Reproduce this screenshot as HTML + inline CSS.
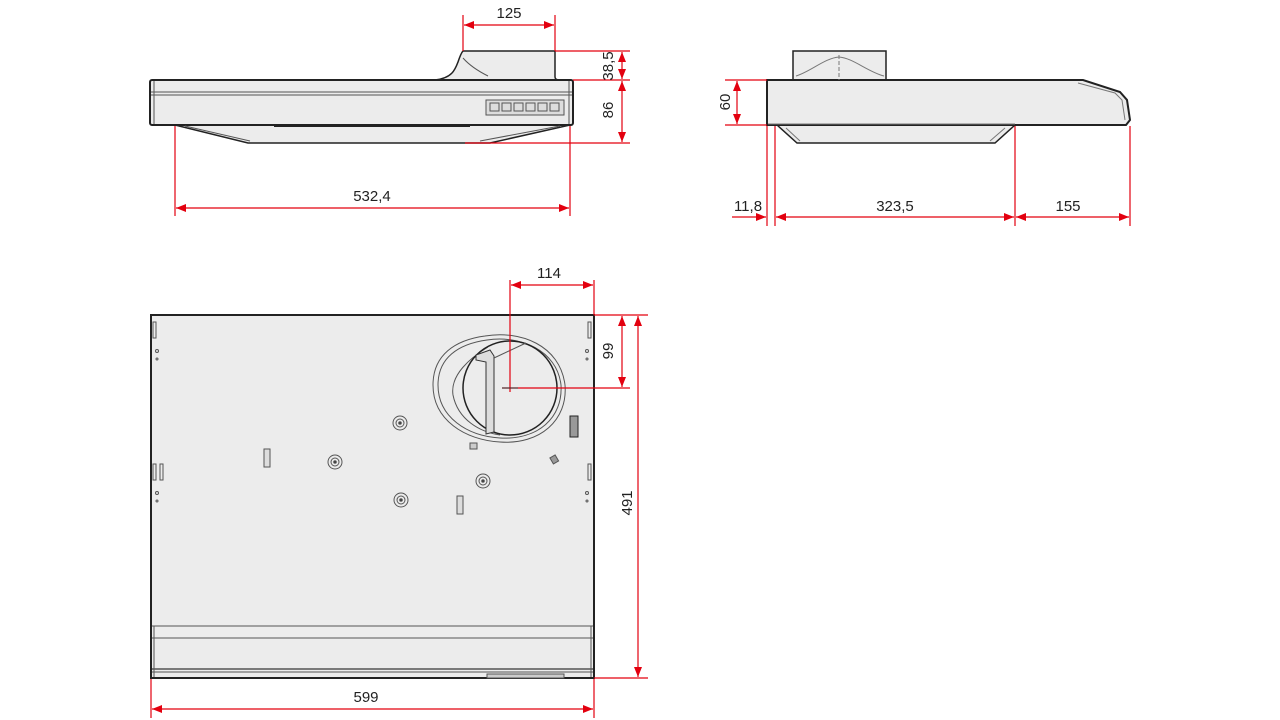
<!DOCTYPE html>
<html><head><meta charset="utf-8"><style>
html,body{margin:0;padding:0;background:#fff;width:1280px;height:720px;overflow:hidden}
svg{display:block}
text{font-family:"Liberation Sans","DejaVu Sans",sans-serif;font-size:15px;fill:#222}
</style></head><body>
<svg width="1280" height="720" viewBox="0 0 1280 720" xmlns="http://www.w3.org/2000/svg">
<defs>
<marker id="a" markerWidth="10" markerHeight="8" refX="10" refY="4" orient="auto-start-reverse" markerUnits="userSpaceOnUse">
<path d="M0,0 L10,4 L0,8 Z" fill="#e3000f"/></marker>
</defs>

<!-- FRONT VIEW -->
<g stroke="#222" fill="#ececec">
<path d="M435,80 C452,78 455,70 458,62 C460,56 462,52 463,51 L555,51 L555,77 C555,79 557,80 560,80 Z" stroke-width="1.5"/>
<path d="M175,125 L248,143 L490,143 L570,125 Z" stroke-width="1.5"/>
<rect x="150" y="80" width="423" height="45" rx="2" stroke-width="2"/>
</g>
<g stroke="#555" fill="none" stroke-width="1">
<line x1="151" y1="92" x2="572" y2="92"/><line x1="151" y1="95" x2="572" y2="95"/>
<line x1="154" y1="81" x2="154" y2="124"/><line x1="569" y1="81" x2="569" y2="124"/>
<line x1="274" y1="126" x2="470" y2="126" stroke="#222" stroke-width="2"/>
<line x1="185" y1="126" x2="250" y2="141"/><line x1="560" y1="126" x2="480" y2="141"/>
<path d="M463,58 C470,66 480,72 488,76"/>
<rect x="486" y="100" width="78" height="15" fill="#ddd"/>
<rect x="490" y="103" width="9" height="8"/><rect x="502" y="103" width="9" height="8"/><rect x="514" y="103" width="9" height="8"/><rect x="526" y="103" width="9" height="8"/><rect x="538" y="103" width="9" height="8"/><rect x="550" y="103" width="9" height="8"/>
</g>
<g stroke="#e3000f" stroke-width="1.2" fill="none">
<line x1="463" y1="15" x2="463" y2="51"/><line x1="555" y1="15" x2="555" y2="51"/>
<line x1="464" y1="25" x2="554" y2="25" marker-start="url(#a)" marker-end="url(#a)"/>
<line x1="555" y1="51" x2="630" y2="51"/><line x1="573" y1="80" x2="630" y2="80"/><line x1="465" y1="143" x2="630" y2="143"/>
<line x1="622" y1="52" x2="622" y2="79" marker-start="url(#a)" marker-end="url(#a)"/>
<line x1="622" y1="81" x2="622" y2="142" marker-start="url(#a)" marker-end="url(#a)"/>
<line x1="175" y1="126" x2="175" y2="216"/><line x1="570" y1="126" x2="570" y2="216"/>
<line x1="176" y1="208" x2="569" y2="208" marker-start="url(#a)" marker-end="url(#a)"/>
</g>
<text x="509" y="18" text-anchor="middle">125</text>
<text transform="translate(613,66) rotate(-90)" text-anchor="middle">38,5</text>
<text transform="translate(613,110) rotate(-90)" text-anchor="middle">86</text>
<text x="372" y="201" text-anchor="middle">532,4</text>

<!-- SIDE VIEW -->
<g stroke="#222" fill="#ececec">
<rect x="793" y="51" width="93" height="29" stroke-width="1.5"/>
<path d="M777,125 L797,143 L995,143 L1015,125 Z" stroke-width="1.5"/>
<path d="M767,80 L1083,80 L1120,92 L1127,100 L1130,120 L1126,125 L767,125 Z" stroke-width="2"/>
</g>
<g stroke="#777" fill="none" stroke-width="1">
<path d="M796,76 C810,72 825,58 839,57 C853,58 868,72 884,76"/>
<line x1="839" y1="55" x2="839" y2="80" stroke-dasharray="4,2"/>
<path d="M1078,83 L1115,93 L1122,100 L1125,120"/>
<line x1="768" y1="124" x2="1015" y2="124"/>
<line x1="786" y1="128" x2="800" y2="141"/><line x1="1005" y1="128" x2="990" y2="141"/>
</g>
<g stroke="#e3000f" stroke-width="1.2" fill="none">
<line x1="725" y1="80" x2="767" y2="80"/><line x1="725" y1="125" x2="767" y2="125"/>
<line x1="737" y1="81" x2="737" y2="124" marker-start="url(#a)" marker-end="url(#a)"/>
<line x1="767" y1="126" x2="767" y2="226"/><line x1="775" y1="126" x2="775" y2="226"/>
<line x1="1015" y1="126" x2="1015" y2="226"/><line x1="1130" y1="126" x2="1130" y2="226"/>
<line x1="732" y1="217" x2="766" y2="217" marker-end="url(#a)"/>
<line x1="776" y1="217" x2="1014" y2="217" marker-start="url(#a)" marker-end="url(#a)"/>
<line x1="1016" y1="217" x2="1129" y2="217" marker-start="url(#a)" marker-end="url(#a)"/>
</g>
<text transform="translate(730,102) rotate(-90)" text-anchor="middle">60</text>
<text x="748" y="211" text-anchor="middle">11,8</text>
<text x="895" y="211" text-anchor="middle">323,5</text>
<text x="1068" y="211" text-anchor="middle">155</text>

<!-- TOP VIEW -->
<rect x="151" y="315" width="443" height="363" fill="#ececec" stroke="#222" stroke-width="2"/>
<g stroke="#555" fill="none" stroke-width="1">
<line x1="152" y1="626" x2="593" y2="626"/><line x1="152" y1="638" x2="593" y2="638"/>
<line x1="152" y1="669" x2="593" y2="669" stroke-width="1.5"/><line x1="152" y1="672" x2="593" y2="672"/>
<line x1="154" y1="626" x2="154" y2="677"/><line x1="591" y1="626" x2="591" y2="677"/>
<rect x="487" y="674" width="77" height="4" fill="#ccc"/>
<rect x="153" y="322" width="3" height="16"/><rect x="588" y="322" width="3" height="16"/>
<rect x="153" y="464" width="3" height="16"/><rect x="160" y="464" width="3" height="16"/><rect x="588" y="464" width="3" height="16"/>
<circle cx="157" cy="351" r="1.5"/><circle cx="157" cy="359" r="1"/><circle cx="587" cy="351" r="1.5"/><circle cx="587" cy="359" r="1"/>
<circle cx="157" cy="493" r="1.5"/><circle cx="157" cy="501" r="1"/><circle cx="587" cy="493" r="1.5"/><circle cx="587" cy="501" r="1"/>
<path d="M485,336 C520,330 560,345 565,385 C568,420 540,445 500,442 C465,440 433,420 433,385 C433,355 455,340 485,336 Z"/>
<path d="M487,340 C520,335 557,350 561,385 C563,418 538,440 500,438 C467,436 438,417 438,385 C438,358 458,344 487,340 Z"/>
<path d="M488,347 C470,358 450,375 453,395 C458,420 480,432 500,435"/>
<circle cx="510" cy="388" r="47" stroke="#222" stroke-width="1.5"/>
<path d="M476,355 L490,350 L494,356 L494,432 L486,434 L486,362 L476,360 Z" fill="#ddd" stroke="#333"/>
<line x1="494" y1="358" x2="526" y2="343"/>
<g><circle cx="400" cy="423" r="7"/><circle cx="400" cy="423" r="4"/><circle cx="400" cy="423" r="1.3" fill="#333"/></g>
<g><circle cx="335" cy="462" r="7"/><circle cx="335" cy="462" r="4"/><circle cx="335" cy="462" r="1.3" fill="#333"/></g>
<g><circle cx="483" cy="481" r="7"/><circle cx="483" cy="481" r="4"/><circle cx="483" cy="481" r="1.3" fill="#333"/></g>
<g><circle cx="401" cy="500" r="7"/><circle cx="401" cy="500" r="4"/><circle cx="401" cy="500" r="1.3" fill="#333"/></g>
<rect x="264" y="449" width="6" height="18" fill="#ddd"/><rect x="457" y="496" width="6" height="18" fill="#ddd"/>
<rect x="570" y="416" width="8" height="21" fill="#999" stroke="#222"/>
<rect x="470" y="443" width="7" height="6" fill="#ccc"/>
<rect x="551" y="456" width="6" height="7" fill="#999" transform="rotate(-30 554 459)"/>
</g>
<g stroke="#e3000f" stroke-width="1.2" fill="none">
<line x1="510" y1="280" x2="510" y2="392"/><line x1="594" y1="280" x2="594" y2="315"/>
<line x1="511" y1="285" x2="593" y2="285" marker-start="url(#a)" marker-end="url(#a)"/>
<line x1="502" y1="388" x2="630" y2="388"/>
<line x1="594" y1="315" x2="648" y2="315"/><line x1="594" y1="678" x2="648" y2="678"/>
<line x1="622" y1="316" x2="622" y2="387" marker-start="url(#a)" marker-end="url(#a)"/>
<line x1="638" y1="316" x2="638" y2="677" marker-start="url(#a)" marker-end="url(#a)"/>
<line x1="151" y1="679" x2="151" y2="718"/><line x1="594" y1="679" x2="594" y2="718"/>
<line x1="152" y1="709" x2="593" y2="709" marker-start="url(#a)" marker-end="url(#a)"/>
</g>
<line x1="502" y1="388" x2="518" y2="388" stroke="#333" stroke-width="1"/>
<text x="549" y="278" text-anchor="middle">114</text>
<text transform="translate(613,351) rotate(-90)" text-anchor="middle">99</text>
<text transform="translate(632,503) rotate(-90)" text-anchor="middle">491</text>
<text x="366" y="702" text-anchor="middle">599</text>
</svg>
</body></html>
